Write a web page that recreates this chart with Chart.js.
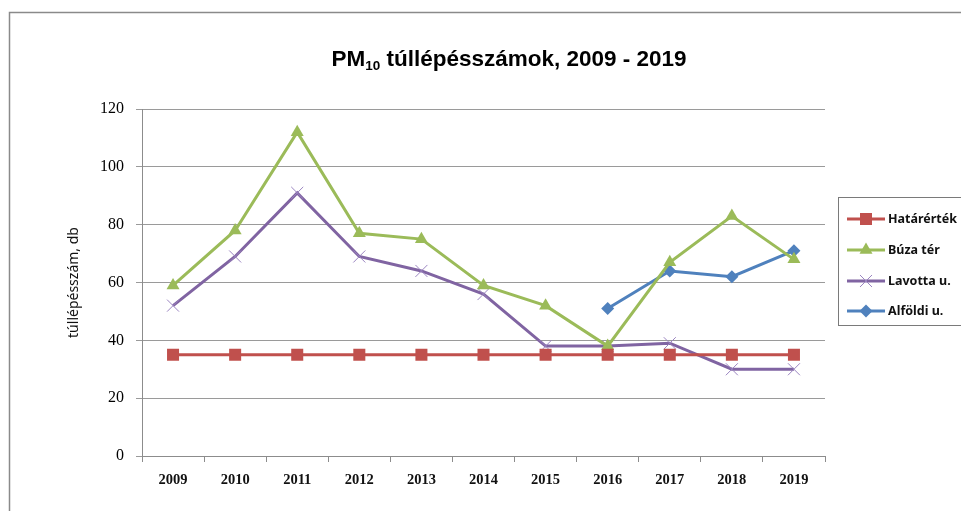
<!DOCTYPE html>
<html>
<head>
<meta charset="utf-8">
<script src="https://cdn.jsdelivr.net/npm/chart.js@4"></script>
<style>
    html, body { margin: 0; padding: 0; background: #fff; }
    #wrap { width: 961px; height: 511px; }
</style>
</head>
<body>
<div id="wrap"><canvas id="pm10-chart" width="961" height="511"></canvas></div>
<script>
const years = ["2009", "2010", "2011", "2012", "2013", "2014", "2015", "2016", "2017", "2018", "2019"];
const hatarertek = [35, 35, 35, 35, 35, 35, 35, 35, 35, 35, 35];
const buzaTer = [59, 78, 112, 77, 75, 59, 52, 38, 67, 83, 68];
const lavotta = [52, 69, 91, 69, 64, 56, 38, 38, 39, 30, 30];
const alfoldi = [null, null, null, null, null, null, null, 51, 64, 62, 71];
const yTicks = [0, 20, 40, 60, 80, 100, 120];

document.addEventListener("DOMContentLoaded", function () {
    const ctx = document.getElementById("pm10-chart").getContext("2d");

    // frame, title (with subscript) and boxed legend
    const decorPlugin = {
        id: "decor",
        afterDraw: function (chart) {
            const c = chart.ctx;
            c.save();
            c.strokeStyle = "#8a8a8a";
            c.lineWidth = 1.5;
            c.strokeRect(9.5, 12.5, 960, 520);

            // title
            c.fillStyle = "#000";
            c.textBaseline = "alphabetic";
            const big = "bold 22.5px 'Liberation Sans', Arial";
            const small = "bold 13.5px 'Liberation Sans', Arial";
            const partA = "PM";
            const partB = "10";
            const partC = " túllépésszámok, 2009 - 2019";
            c.font = big;
            const wA = c.measureText(partA).width;
            const wC = c.measureText(partC).width;
            c.font = small;
            const wB = c.measureText(partB).width;
            let x = 509 - (wA + wB + wC) / 2;
            c.font = big;
            c.fillText(partA, x, 66);
            x += wA;
            c.font = small;
            c.fillText(partB, x, 70);
            x += wB;
            c.font = big;
            c.fillText(partC, x, 66);

            // legend
            c.strokeStyle = "#7a7a7a";
            c.lineWidth = 1;
            c.fillStyle = "#fff";
            c.fillRect(838.5, 197.5, 140, 128);
            c.strokeRect(838.5, 197.5, 140, 128);
            const rows = [219, 250, 281, 311];
            chart.data.datasets.forEach(function (ds, i) {
                const y = rows[i];
                c.strokeStyle = ds.borderColor;
                c.lineWidth = 3;
                c.beginPath();
                c.moveTo(847, y);
                c.lineTo(885, y);
                c.stroke();
                c.fillStyle = ds.pointBackgroundColor;
                c.strokeStyle = ds.pointBorderColor;
                c.lineWidth = ds.pointBorderWidth;
                Chart.helpers.drawPoint(c, {
                    pointStyle: ds.pointStyle,
                    radius: ds.pointRadius,
                    borderWidth: ds.pointBorderWidth,
                    rotation: 0,
                }, 866, y);
                c.fillStyle = "#111";
                c.font = "bold 12.5px 'Noto Sans', sans-serif";
                c.textBaseline = "middle";
                c.fillText(ds.label, 888, y);
            });
            c.restore();
        },
    };

    const chartData = {
        labels: years,
        datasets: [
            {
                label: "Határérték",
                data: hatarertek,
                borderColor: "#C0504D",
                borderWidth: 3,
                pointStyle: "rect",
                pointRadius: 8.5,
                pointBackgroundColor: "#C0504D",
                pointBorderColor: "#C0504D",
                pointBorderWidth: 0,
            },
            {
                label: "Búza tér",
                data: buzaTer,
                borderColor: "#9BBB59",
                borderWidth: 3,
                pointStyle: "triangle",
                pointRadius: 7.5,
                pointBackgroundColor: "#9BBB59",
                pointBorderColor: "#9BBB59",
                pointBorderWidth: 0,
            },
            {
                label: "Lavotta u.",
                data: lavotta,
                borderColor: "#8064A2",
                borderWidth: 3,
                pointStyle: "crossRot",
                pointRadius: 8.5,
                pointBackgroundColor: "#8064A2",
                pointBorderColor: "#9a84c0",
                pointBorderWidth: 1,
            },
            {
                label: "Alföldi u.",
                data: alfoldi,
                borderColor: "#4F81BD",
                borderWidth: 3,
                pointStyle: "rectRot",
                pointRadius: 6.5,
                pointBackgroundColor: "#4F81BD",
                pointBorderColor: "#4F81BD",
                pointBorderWidth: 0,
            },
        ],
    };

    const chartOptions = {
        responsive: false,
        animation: false,
        layout: {
            padding: { left: 64, right: 136, top: 109, bottom: 25 },
        },
        elements: {
            line: { tension: 0 },
        },
        scales: {
            x: {
                offset: true,
                grid: {
                    offset: true,
                    drawOnChartArea: false,
                    drawTicks: true,
                    tickLength: 6,
                    color: "#8c8c8c",
                },
                border: { color: "#8c8c8c", width: 1 },
                ticks: {
                    color: "#111",
                    font: { family: "'Liberation Serif', serif", size: 14.5, weight: "bold" },
                    padding: 10,
                    maxRotation: 0,
                },
                afterFit: function (scale) {
                    scale.height = 30;
                },
            },
            y: {
                min: 0,
                max: 120,
                afterBuildTicks: function (scale) {
                    scale.ticks = yTicks.map(function (v) { return { value: v }; });
                },
                grid: {
                    color: "#9a9a9a",
                    tickLength: 6,
                },
                border: { color: "#8c8c8c", width: 1 },
                ticks: {
                    color: "#000",
                    font: { family: "'Liberation Serif', serif", size: 16 },
                    padding: 12,
                },
                title: {
                    display: true,
                    text: "túllépésszám, db",
                    color: "#111",
                    font: { family: "'Noto Sans', sans-serif", size: 14 },
                    padding: { top: 2, bottom: 4 },
                },
                afterFit: function (scale) {
                    scale.width = 78;
                },
            },
        },
        plugins: {
            legend: { display: false },
            tooltip: { enabled: false },
        },
    };

    new Chart(ctx, {
        type: "line",
        data: chartData,
        options: chartOptions,
        plugins: [decorPlugin],
    });
});
</script>
</body>
</html>
